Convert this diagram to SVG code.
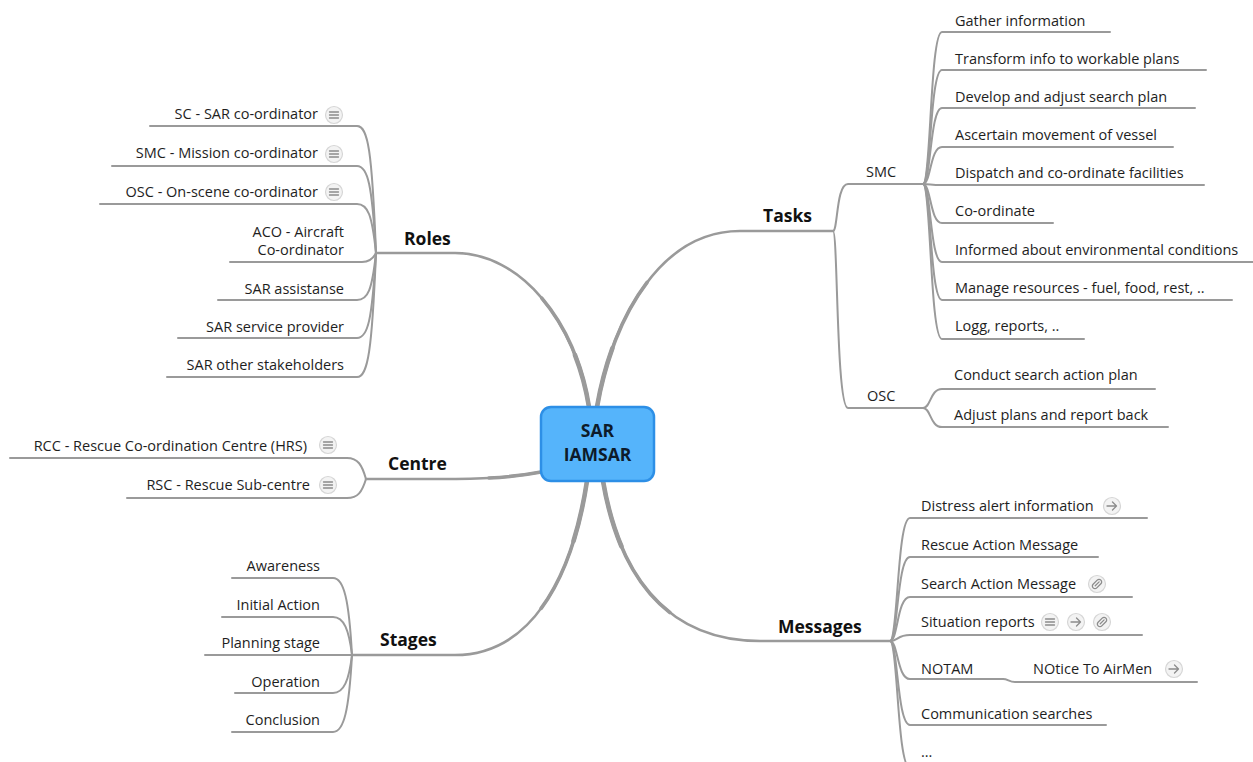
<svg xmlns="http://www.w3.org/2000/svg" xmlns:xlink="http://www.w3.org/1999/xlink" width="1253" height="762" viewBox="0 0 1253 762">
<style>
.bg{fill:#ffffff}
.ln{fill:none;stroke:#9a9a9a;stroke-width:2;stroke-linecap:round}
.main{fill:none;stroke:#9a9a9a;stroke-width:2.6;stroke-linecap:round}
.m2{stroke-width:3.6}
.m3{stroke-width:4.6}
.t{font-family:"Open Sans","Lato",sans-serif;font-size:14.5px;fill:#1e1e1e}
.e{text-anchor:end}
.b{font-family:"Open Sans","Lato",sans-serif;font-size:17.5px;font-weight:bold;fill:#111}
.c{font-family:"Open Sans","Lato",sans-serif;font-size:17.5px;font-weight:bold;fill:#0d1b2a;text-anchor:middle}
.ic{fill:#f3f3f3;stroke:#d6d6d6;stroke-width:1.2}
.ig{fill:none;stroke:#8c8c8c;stroke-width:1.3;stroke-linecap:round;stroke-linejoin:round}
</style>
<defs>
<path id="br-roles" d="M589,407 C575,320 520,253 455,253 L376,253"/>
<path id="br-tasks" d="M597,407 C612,320 660,231 740,231 L833,231"/>
<path id="br-centre" d="M541,472 C510,478 480,479 440,479 L366,479"/>
<path id="br-stages" d="M587,481 C572,580 530,655 455,655 L352,655"/>
<path id="br-msgs" d="M603,481 C620,580 670,641 760,641 L890,641"/>
<g id="note"><circle class="ic" r="8.5"/><path class="ig" d="M-4.5,-3H4.5M-4.5,0H4.5M-4.5,3H4.5"/></g>
<g id="arrow"><circle class="ic" r="8.5"/><path class="ig" d="M-5,0H4.5M0.5,-4L4.5,0L0.5,4"/></g>
<g id="link"><circle class="ic" r="8.5"/><g transform="rotate(-45)"><rect class="ig" x="-5.5" y="-2.6" width="11" height="5.2" rx="2.6"/><path class="ig" d="M-2.5,0H3"/></g></g>
</defs>
<rect class="bg" width="1253" height="762"/>

<g id="connectors">
  <!-- main branches (tapered toward the centre) -->
  <use xlink:href="#br-roles" href="#br-roles" class="main"/>
  <path class="main m2" pathLength="100" stroke-dasharray="40 200" d="M589,407 C575,320 520,253 455,253 L376,253"/>
  <path class="main m3" pathLength="100" stroke-dasharray="18 200" d="M589,407 C575,320 520,253 455,253 L376,253"/>
  <use xlink:href="#br-tasks" href="#br-tasks" class="main"/>
  <path class="main m2" pathLength="100" stroke-dasharray="40 200" d="M597,407 C612,320 660,231 740,231 L833,231"/>
  <path class="main m3" pathLength="100" stroke-dasharray="18 200" d="M597,407 C612,320 660,231 740,231 L833,231"/>
  <use xlink:href="#br-centre" href="#br-centre" class="main"/>
  <path class="main m2" pathLength="100" stroke-dasharray="30 200" d="M541,472 C510,478 480,479 440,479 L366,479"/>
  <use xlink:href="#br-stages" href="#br-stages" class="main"/>
  <path class="main m2" pathLength="100" stroke-dasharray="40 200" d="M587,481 C572,580 530,655 455,655 L352,655"/>
  <path class="main m3" pathLength="100" stroke-dasharray="18 200" d="M587,481 C572,580 530,655 455,655 L352,655"/>
  <use xlink:href="#br-msgs" href="#br-msgs" class="main"/>
  <path class="main m2" pathLength="100" stroke-dasharray="40 200" d="M603,481 C620,580 670,641 760,641 L890,641"/>
  <path class="main m3" pathLength="100" stroke-dasharray="18 200" d="M603,481 C620,580 670,641 760,641 L890,641"/>
  <!-- Roles children -->
  <path class="ln" d="M150,126 H357 C368,126 372,150 376,253"/>
  <path class="ln" d="M112,166 H357 C368,166 372,185 376,253"/>
  <path class="ln" d="M100,204 H357 C368,204 372,215 376,253"/>
  <path class="ln" d="M230,262 H362 C369,262 373,259 376,253"/>
  <path class="ln" d="M218,300 H357 C368,300 372,290 376,253"/>
  <path class="ln" d="M178,338 H357 C368,338 372,320 376,253"/>
  <path class="ln" d="M167,377 H357 C368,377 372,350 376,253"/>
  <!-- Centre children -->
  <path class="ln" d="M10,458 H347 C358,458 362,465 366,479"/>
  <path class="ln" d="M127,498 H347 C358,498 362,492 366,479"/>
  <!-- Stages children -->
  <path class="ln" d="M232,578 H333 C344,578 349,600 352,655"/>
  <path class="ln" d="M222,617 H333 C344,617 349,630 352,655"/>
  <path class="ln" d="M205,655 H352"/>
  <path class="ln" d="M235,693 H333 C344,693 349,680 352,655"/>
  <path class="ln" d="M232,732 H333 C344,732 349,710 352,655"/>
  <!-- Tasks -->
  <path class="ln" d="M833,231 C838,231 836,184 848,184 L923,184"/>
  <path class="ln" d="M833,231 C838,231 836,408 848,408 L923,408"/>
  <!-- SMC children -->
  <path class="ln" d="M923,184 C931,184 930,32 942,32 L1110,32"/>
  <path class="ln" d="M923,184 C931,184 930,70 942,70 L1206,70"/>
  <path class="ln" d="M923,184 C931,184 930,108 942,108 L1195,108"/>
  <path class="ln" d="M923,184 C931,184 930,147 942,147 L1173,147"/>
  <path class="ln" d="M923,184 C931,184 930,185 942,185 L1204,185"/>
  <path class="ln" d="M923,184 C931,184 930,223 942,223 L1053,223"/>
  <path class="ln" d="M923,184 C931,184 930,262 942,262 L1253,262"/>
  <path class="ln" d="M923,184 C931,184 930,300 942,300 L1232,300"/>
  <path class="ln" d="M923,184 C931,184 930,339 942,339 L1084,339"/>
  <!-- OSC children -->
  <path class="ln" d="M923,408 C931,408 930,389 942,389 L1155,389"/>
  <path class="ln" d="M923,408 C931,408 930,427 942,427 L1168,427"/>
  <!-- Messages children -->
  <path class="ln" d="M890,641 C898,641 897,518 910,518 L1147,518"/>
  <path class="ln" d="M890,641 C898,641 897,557 910,557 L1098,557"/>
  <path class="ln" d="M890,641 C898,641 897,597 910,597 L1132,597"/>
  <path class="ln" d="M890,641 C898,641 897,635 910,635 L1142,635"/>
  <path class="ln" d="M890,641 C898,641 897,679 910,679 L1003,679"/>
  <path class="ln" d="M1003,679 C1008,679 1009,682 1015,682 L1197,682"/>
  <path class="ln" d="M890,641 C898,641 897,725 910,725 L1106,725"/>
  <path class="ln" d="M890,641 C898,641 897,768 910,768 L1000,768"/>
</g>

<g id="root">
  <rect x="541" y="407" width="113" height="74" rx="10" fill="#55b4fb" stroke="#2d8fe6" stroke-width="2.5"/>
  <text class="c" x="597.5" y="437">SAR</text>
  <text class="c" x="597.5" y="461">IAMSAR</text>
</g>

<g id="roles"><text class="b" x="404" y="245">Roles</text></g>
<g id="tasks"><text class="b" x="763" y="222">Tasks</text></g>
<g id="centre"><text class="b" x="388" y="470">Centre</text></g>
<g id="stages"><text class="b" x="380" y="646">Stages</text></g>
<g id="messages"><text class="b" x="778" y="633">Messages</text></g>

<g id="roles-sc"><text class="t e" x="318" y="119">SC - SAR co-ordinator</text><use xlink:href="#note" href="#note" x="334" y="115"/></g>
<g id="roles-smc"><text class="t e" x="318" y="158">SMC - Mission co-ordinator</text><use xlink:href="#note" href="#note" x="334" y="154"/></g>
<g id="roles-osc"><text class="t e" x="318" y="197">OSC - On-scene co-ordinator</text><use xlink:href="#note" href="#note" x="334" y="192"/></g>
<g id="roles-aco"><text class="t e" x="344" y="237">ACO - Aircraft</text><text class="t e" x="344" y="255">Co-ordinator</text></g>
<g id="roles-assist"><text class="t e" x="344" y="293.5">SAR assistanse</text></g>
<g id="roles-provider"><text class="t e" x="344" y="332">SAR service provider</text></g>
<g id="roles-other"><text class="t e" x="344" y="370">SAR other stakeholders</text></g>

<g id="centre-rcc"><text class="t e" x="307" y="451">RCC - Rescue Co-ordination Centre (HRS)</text><use xlink:href="#note" href="#note" x="328" y="445"/></g>
<g id="centre-rsc"><text class="t e" x="310" y="490">RSC - Rescue Sub-centre</text><use xlink:href="#note" href="#note" x="328" y="485"/></g>

<g id="stage-awareness"><text class="t e" x="320" y="571">Awareness</text></g>
<g id="stage-initial"><text class="t e" x="320" y="609.5">Initial Action</text></g>
<g id="stage-planning"><text class="t e" x="320" y="648">Planning stage</text></g>
<g id="stage-operation"><text class="t e" x="320" y="686.5">Operation</text></g>
<g id="stage-conclusion"><text class="t e" x="320" y="725">Conclusion</text></g>

<g id="task-smc"><text class="t" x="866" y="177">SMC</text></g>
<g id="task-osc"><text class="t" x="867" y="401">OSC</text></g>
<g id="smc-1"><text class="t" x="955" y="25.5">Gather information</text></g>
<g id="smc-2"><text class="t" x="955" y="63.5">Transform info to workable plans</text></g>
<g id="smc-3"><text class="t" x="955" y="101.5">Develop and adjust search plan</text></g>
<g id="smc-4"><text class="t" x="955" y="140">Ascertain movement of vessel</text></g>
<g id="smc-5"><text class="t" x="955" y="178">Dispatch and co-ordinate facilities</text></g>
<g id="smc-6"><text class="t" x="955" y="216">Co-ordinate</text></g>
<g id="smc-7"><text class="t" x="955" y="254.5">Informed about environmental conditions</text></g>
<g id="smc-8"><text class="t" x="955" y="292.5">Manage resources - fuel, food, rest, ..</text></g>
<g id="smc-9"><text class="t" x="955" y="331">Logg, reports, ..</text></g>
<g id="osc-1"><text class="t" x="954" y="380">Conduct search action plan</text></g>
<g id="osc-2"><text class="t" x="954" y="419.5">Adjust plans and report back</text></g>

<g id="msg-distress"><text class="t" x="921" y="510.5">Distress alert information</text><use xlink:href="#arrow" href="#arrow" x="1112" y="506"/></g>
<g id="msg-rescue"><text class="t" x="921" y="550">Rescue Action Message</text></g>
<g id="msg-search"><text class="t" x="921" y="588.5">Search Action Message</text><use xlink:href="#link" href="#link" x="1097" y="584"/></g>
<g id="msg-sitrep"><text class="t" x="921" y="627">Situation reports</text><use xlink:href="#note" href="#note" x="1050" y="622"/><use xlink:href="#arrow" href="#arrow" x="1076" y="622"/><use xlink:href="#link" href="#link" x="1102" y="622"/></g>
<g id="msg-notam"><text class="t" x="921" y="673.5">NOTAM</text></g>
<g id="msg-notam-def"><text class="t" x="1033" y="673.5">NOtice To AirMen</text><use xlink:href="#arrow" href="#arrow" x="1174" y="669"/></g>
<g id="msg-comm"><text class="t" x="921" y="718.5">Communication searches</text></g>
<g id="msg-more"><text class="t" x="921" y="757">...</text></g>
</svg>
